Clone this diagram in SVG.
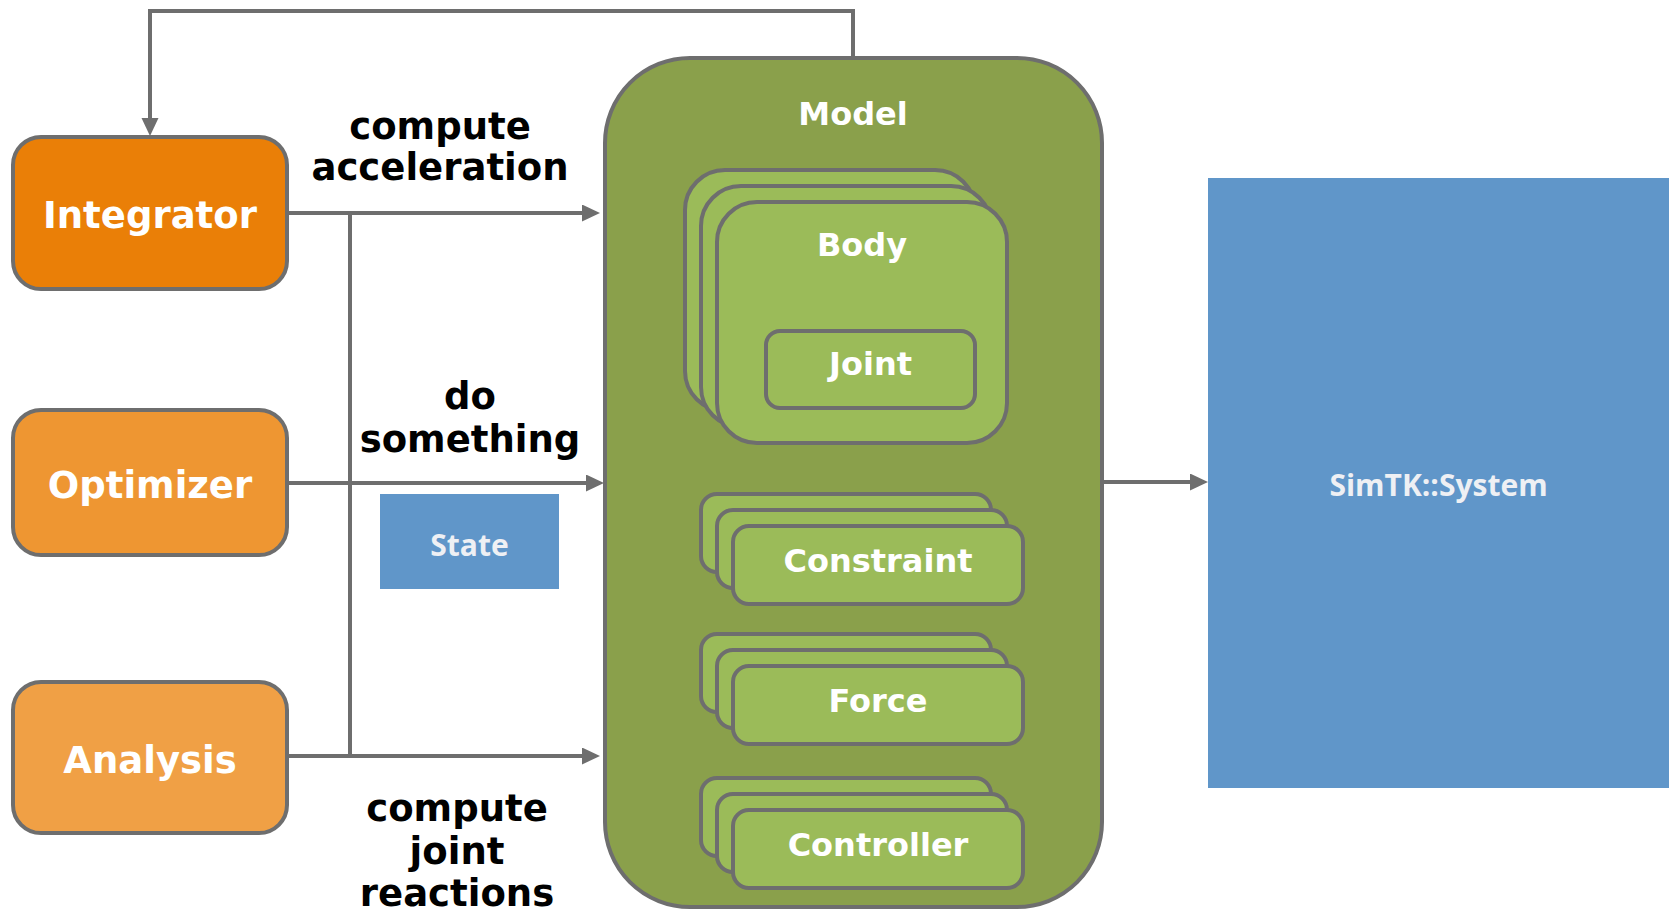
<svg xmlns="http://www.w3.org/2000/svg" width="1673" height="915" viewBox="0 0 1673 915">
  <defs>
    <marker id="arrow" markerUnits="userSpaceOnUse" markerWidth="18" markerHeight="18" refX="0" refY="8.5" orient="auto">
      <path d="M0,0 L18,8.5 L0,17 z" fill="#6E6E6E"/>
    </marker>
    <style>
      .edge { fill: none; stroke: #6E6E6E; stroke-width: 4; }
      .outline { stroke: #6E6E6E; stroke-width: 4; }
      .card { fill: #9BBB59; stroke: #6E6E6E; stroke-width: 4; }
      .tool { font-family: "DejaVu Sans", Verdana, sans-serif; font-weight: bold; font-size: 37px; fill: #FFFFFF; text-anchor: middle; }
      .inner { font-family: "DejaVu Sans", Verdana, sans-serif; font-weight: bold; font-size: 32px; fill: #FFFFFF; text-anchor: middle; }
      .label { font-family: "DejaVu Sans", Verdana, sans-serif; font-weight: bold; font-size: 37px; fill: #000000; text-anchor: middle; }
      .sys { font-family: "Open Sans", "Noto Sans", sans-serif; font-weight: bold; font-size: 30px; fill: #EEF0F4; text-anchor: middle; }
    </style>
  </defs>

  <!-- connectors -->
  <g id="connectors">
    <path class="edge" d="M853,58 V11 H150 V118" marker-end="url(#arrow)"/>
    <path class="edge" d="M287,213 H582" marker-end="url(#arrow)"/>
    <path class="edge" d="M350,213 V756"/>
    <path class="edge" d="M287,483 H586" marker-end="url(#arrow)"/>
    <path class="edge" d="M287,756 H582" marker-end="url(#arrow)"/>
    <path class="edge" d="M1102,482 H1190" marker-end="url(#arrow)"/>
  </g>

  <!-- tools on the left -->
  <g id="integrator">
    <rect class="outline" x="13" y="137" width="274" height="152" rx="28" fill="#EA7F07"/>
    <text class="tool" x="150" y="228">Integrator</text>
  </g>
  <g id="optimizer">
    <rect class="outline" x="13" y="410" width="274" height="145" rx="28" fill="#EE9632"/>
    <text class="tool" x="150" y="498">Optimizer</text>
  </g>
  <g id="analysis">
    <rect class="outline" x="13" y="682" width="274" height="151" rx="28" fill="#F0A045"/>
    <text class="tool" x="150" y="773">Analysis</text>
  </g>

  <!-- edge labels -->
  <g id="label-acceleration">
    <text class="label" x="440" y="139">compute</text>
    <text class="label" x="440" y="180">acceleration</text>
  </g>
  <g id="label-something">
    <text class="label" x="470" y="409">do</text>
    <text class="label" x="470" y="452">something</text>
  </g>
  <g id="label-reactions">
    <text class="label" x="457" y="821">compute</text>
    <text class="label" x="457" y="864">joint</text>
    <text class="label" x="457" y="906">reactions</text>
  </g>

  <!-- state -->
  <g id="state">
    <rect x="380" y="494" width="179" height="95" fill="#6096C9"/>
    <text class="sys" x="469.5" y="556">State</text>
  </g>

  <!-- model container -->
  <g id="model">
    <rect class="outline" x="605" y="58" width="497" height="849" rx="85" fill="#8AA04B"/>
    <text class="inner" x="853" y="125">Model</text>
  </g>

  <g id="body">
    <rect class="card" x="685" y="170" width="290" height="241" rx="40"/>
    <rect class="card" x="701" y="186" width="290" height="241" rx="40"/>
    <rect class="card" x="717" y="202" width="290" height="241" rx="40"/>
    <text class="inner" x="862" y="256">Body</text>
  </g>
  <g id="joint">
    <rect class="card" x="766" y="331" width="209" height="77" rx="14"/>
    <text class="inner" x="870.5" y="375">Joint</text>
  </g>

  <g id="constraint">
    <rect class="card" x="701" y="494" width="290" height="78" rx="16"/>
    <rect class="card" x="717" y="510" width="290" height="78" rx="16"/>
    <rect class="card" x="733" y="526" width="290" height="78" rx="16"/>
    <text class="inner" x="878" y="572">Constraint</text>
  </g>
  <g id="force">
    <rect class="card" x="701" y="634" width="290" height="78" rx="16"/>
    <rect class="card" x="717" y="650" width="290" height="78" rx="16"/>
    <rect class="card" x="733" y="666" width="290" height="78" rx="16"/>
    <text class="inner" x="878" y="712">Force</text>
  </g>
  <g id="controller">
    <rect class="card" x="701" y="778" width="290" height="78" rx="16"/>
    <rect class="card" x="717" y="794" width="290" height="78" rx="16"/>
    <rect class="card" x="733" y="810" width="290" height="78" rx="16"/>
    <text class="inner" x="878" y="856">Controller</text>
  </g>

  <!-- underlying system -->
  <g id="simtk-system">
    <rect x="1208" y="178" width="461" height="610" fill="#6096C9"/>
    <text class="sys" x="1438.5" y="496">SimTK::System</text>
  </g>
</svg>
